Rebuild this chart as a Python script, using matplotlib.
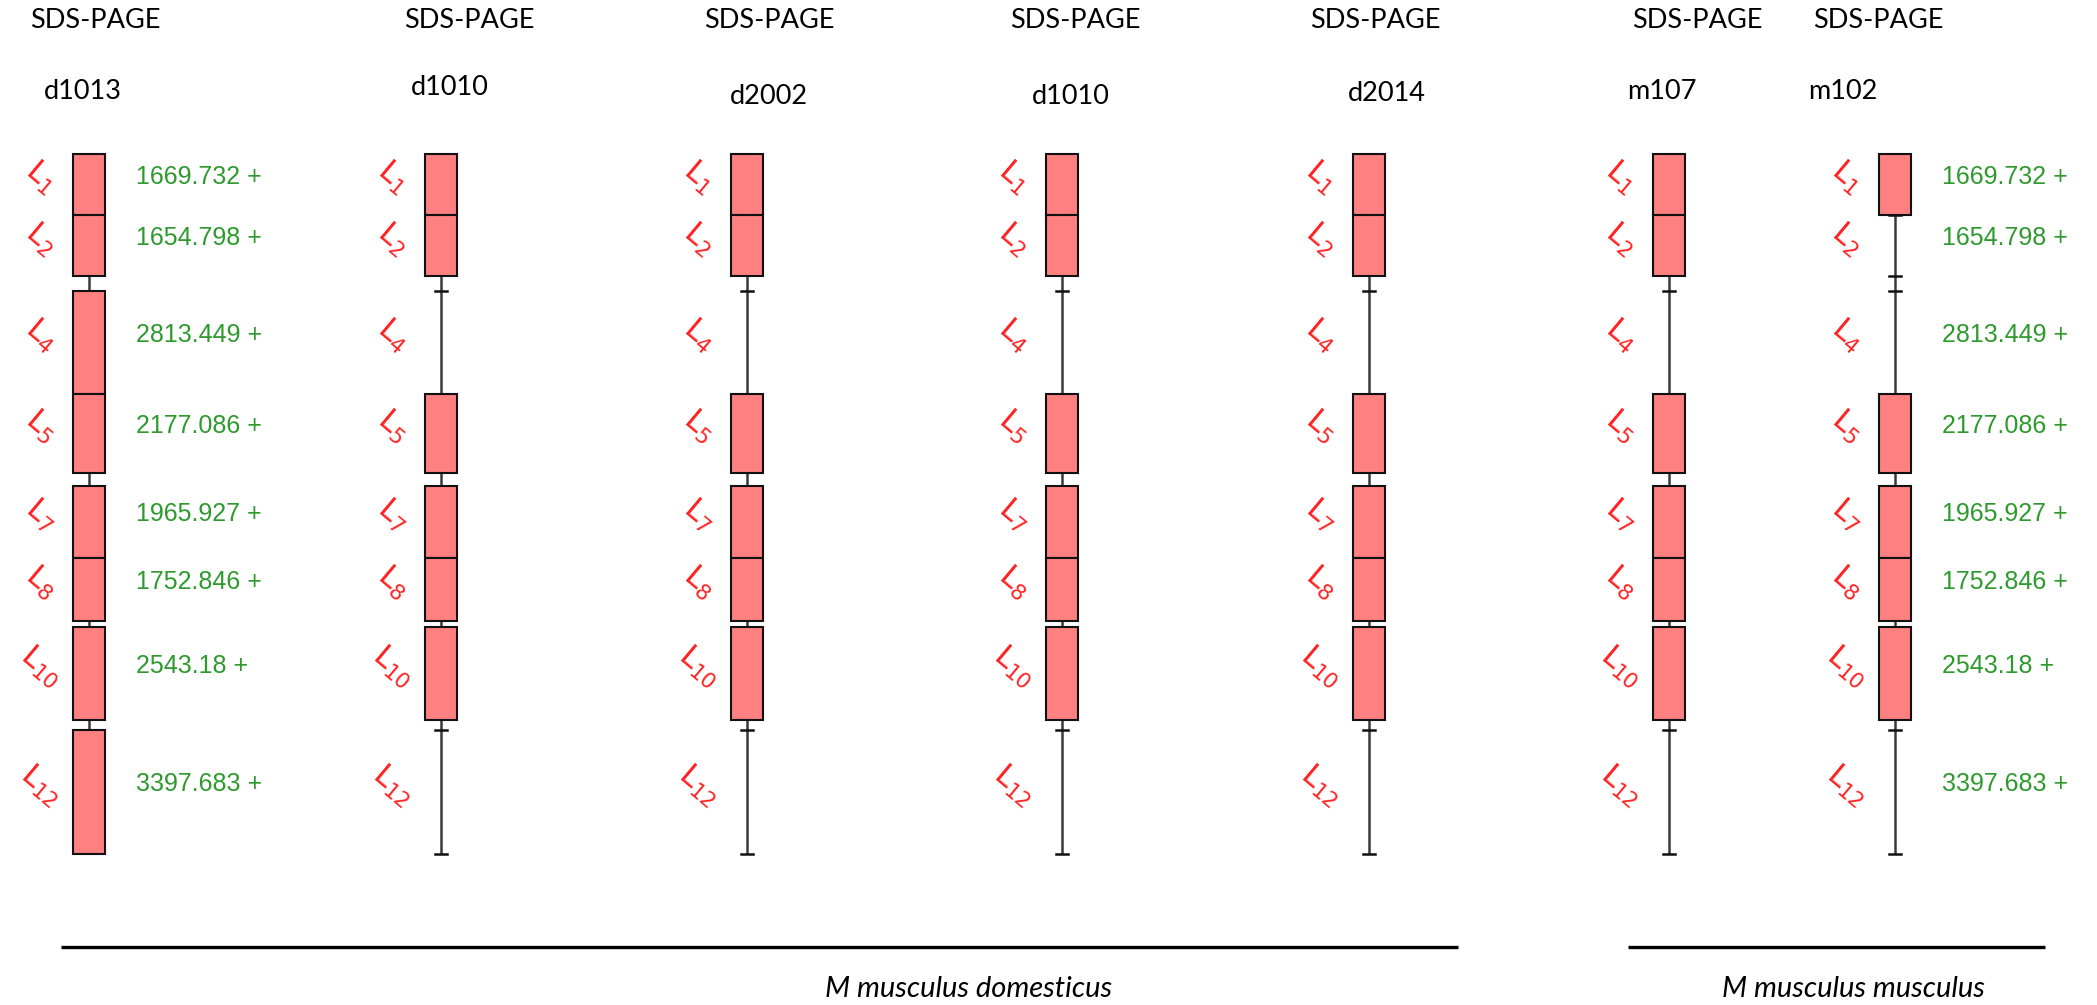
import matplotlib
matplotlib.use("Agg")
import matplotlib.pyplot as plt
from matplotlib.patches import Rectangle

# ---------------- data ----------------
columns = ["d1013", "d1010", "d2002", "d1010", "d2014", "m107", "m102"]
header = "SDS-PAGE"
segments = ["1", "2", "4", "5", "7", "8", "10", "12"]
seg_start = [154, 215, 291, 394, 486, 558, 627, 730]
seg_end = [215, 276, 394, 473, 558, 621, 720, 854]
masses = ["1669.732", "1654.798", "2813.449", "2177.086",
          "1965.927", "1752.846", "2543.18", "3397.683"]
presence = [
    [1, 1, 1, 1, 1, 1, 1, 1],  # d1013
    [1, 1, 0, 1, 1, 1, 1, 0],  # d1010
    [1, 1, 0, 1, 1, 1, 1, 0],  # d2002
    [1, 1, 0, 1, 1, 1, 1, 0],  # d1010
    [1, 1, 0, 1, 1, 1, 1, 0],  # d2014
    [1, 1, 0, 1, 1, 1, 1, 0],  # m107
    [1, 0, 0, 1, 1, 1, 1, 0],  # m102
]
show_mass = [True, False, False, False, False, False, True]
groups = ["M musculus domesticus", "M musculus musculus"]

# ---------------- layout ----------------
col_x = [89, 441, 747, 1062, 1369, 1669, 1895]
header_x = [95, 469, 769, 1075, 1375, 1697, 1878]
id_x = [83, 450, 769, 1071, 1387, 1662, 1843]
id_y = [91, 87, 96, 96, 93, 91, 91]
group_line = [(61, 1458), (1628, 2045)]
group_label_x = [969, 1853]

W, H = 2097, 1005
fig = plt.figure(figsize=(W / 100, H / 100), dpi=100)
ax = fig.add_axes([0, 0, 1, 1])
ax.set_xlim(0, W)
ax.set_ylim(H, 0)
ax.axis("off")

box_w = 32
cap_hw = 6
face = "#ff8080"
red = "#ff2222"
green = "#2e9a2e"
title_font = "Lato"

for ci, name in enumerate(columns):
    cx = col_x[ci]
    ax.text(header_x[ci], 20, header, ha="center", va="center",
            fontsize=19.5, family=title_font, color="black")
    ax.text(id_x[ci], id_y[ci], name, ha="center", va="center",
            fontsize=19.5, family=title_font, color="black")
    # backbone
    ax.plot([cx, cx], [seg_start[0], seg_end[-1]], color="#3a3a3a",
            lw=1.8, zorder=1, solid_capstyle="butt")
    for si, seg in enumerate(segments):
        y0, y1 = seg_start[si], seg_end[si]
        if presence[ci][si]:
            ax.add_patch(Rectangle((cx - box_w / 2, y0), box_w, y1 - y0,
                                   facecolor=face, edgecolor="#111111",
                                   lw=1.5, zorder=3))
        else:
            for yy in (y0, y1):
                ax.plot([cx - cap_hw, cx + cap_hw], [yy, yy],
                        color="#111111", lw=1.8, zorder=2)
        yc = (y0 + y1) / 2 - 7
        ax.text(cx - 48, yc, r"$\mathsf{L}_{\mathsf{" + seg + "}}$", color=red,
                fontsize=22, rotation=-40, ha="center", va="center",
                rotation_mode="anchor", zorder=4)
        if show_mass[ci]:
            ax.text(cx + 47, yc - 1, masses[si] + " +", color=green,
                    fontsize=18, family="Liberation Sans",
                    ha="left", va="center", zorder=4)

for gi, g in enumerate(groups):
    x0, x1 = group_line[gi]
    ax.plot([x0, x1], [947, 947], color="black", lw=2.4,
            solid_capstyle="butt")
    ax.text(group_label_x[gi], 989, g, ha="center", va="center",
            fontsize=21, family=title_font, style="italic", color="black")

fig.savefig("out.png", dpi=100)
